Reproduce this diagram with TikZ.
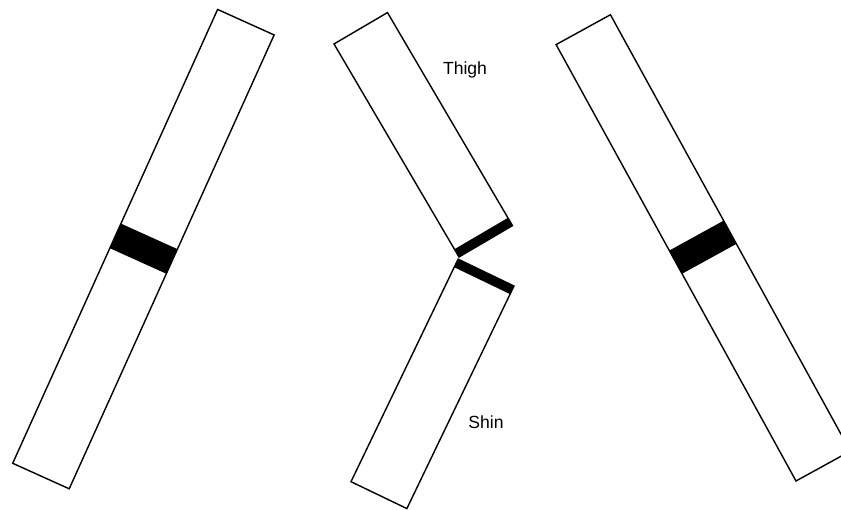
\documentclass[tikz,border=0pt]{standalone}
\usepackage{fontspec}
\setmainfont{Liberation Sans}
\usetikzlibrary{positioning}

\begin{document}
\begin{tikzpicture}[
  limb/.style={draw, line width=0.8pt, fill=white},
  band/.style={fill=black},
  label/.style={font=\fontsize{10}{12}\selectfont, inner sep=0pt},
]
\clip (0,0) rectangle (16.82,10.2);
% straight leg, left
\begin{scope}[shift={(0.254,0.934)}, rotate=-24.3]
  \draw[limb] (0,0) rectangle (1.24,9.96);
  \fill[band] (0,4.72) rectangle (1.24,5.26);
\end{scope}
% bent leg, middle
\begin{scope}[shift={(9.18,5.06)}, rotate=30.4]
  \draw[limb] (0,0) rectangle (1.24,4.94);
  \fill[band] (0,0) rectangle (1.24,0.18);
\end{scope}
\begin{scope}[shift={(7.02,0.566)}, rotate=-25.7]
  \draw[limb] (0,0) rectangle (1.24,4.94);
  \fill[band] (0,4.76) rectangle (1.24,4.94);
\end{scope}
\node[label] (thigh) at (9.3,8.81) {Thigh};
\node[label] (shin) at (9.72,1.75) {Shin};
% straight leg, right
\begin{scope}[shift={(15.92,0.58)}, rotate=28.8]
  \draw[limb] (0,0) rectangle (1.24,9.96);
  \fill[band] (0,4.73) rectangle (1.24,5.26);
\end{scope}
\end{tikzpicture}
\end{document}
